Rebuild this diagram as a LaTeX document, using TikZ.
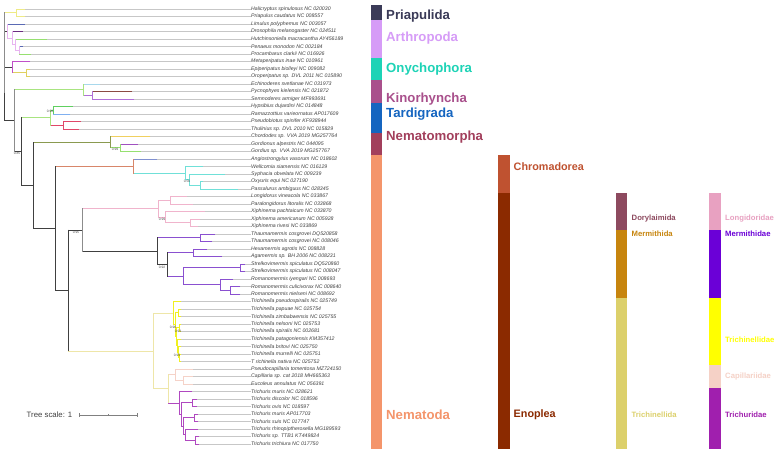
\documentclass[tikz,border=0pt]{standalone}
\usepackage{fontspec}
\setmainfont{Liberation Sans}
\definecolor{bb}{HTML}{404040}
\definecolor{bg}{HTML}{8C8C8C}
\definecolor{cPri}{HTML}{EEEA86}
\definecolor{cLav}{HTML}{E8B4F0}
\definecolor{cBlue}{HTML}{5A6AB4}
\definecolor{cDpur}{HTML}{6B2C80}
\definecolor{cGrn}{HTML}{96E070}
\definecolor{cMag}{HTML}{C050C8}
\definecolor{cYel}{HTML}{E0D060}
\definecolor{cLgrn}{HTML}{A8E480}
\definecolor{cLblu}{HTML}{A8D8EC}
\definecolor{cBrn}{HTML}{8B4A42}
\definecolor{cPur}{HTML}{B070D8}
\definecolor{cGreenB}{HTML}{60D060}
\definecolor{cBluB}{HTML}{80B0F0}
\definecolor{cRed}{HTML}{E04868}
\definecolor{cOlive}{HTML}{8A9A50}
\definecolor{cGold}{HTML}{F0D060}
\definecolor{cGpur}{HTML}{A050C0}
\definecolor{cSalm}{HTML}{D8866A}
\definecolor{cPeri}{HTML}{8090D0}
\definecolor{cCyan}{HTML}{70E0D8}
\definecolor{cPink}{HTML}{F0B4CC}
\definecolor{cMer}{HTML}{8A50D0}
\definecolor{cTyel}{HTML}{F0F020}
\definecolor{cPale}{HTML}{EEE6A8}
\definecolor{cCap}{HTML}{F5D2C8}
\definecolor{cTru}{HTML}{B048C0}
% bar colours
\definecolor{kPri}{HTML}{3B3B58}
\definecolor{kArt}{HTML}{D69CF7}
\definecolor{kOny}{HTML}{1DD3B6}
\definecolor{kKin}{HTML}{A9508C}
\definecolor{kTar}{HTML}{1565C0}
\definecolor{kNmo}{HTML}{A23F5C}
\definecolor{kNem}{HTML}{F4956B}
\definecolor{kChr}{HTML}{BF5230}
\definecolor{kEno}{HTML}{8B2A00}
\definecolor{kDor}{HTML}{8D4A5F}
\definecolor{kMeo}{HTML}{C7850E}
\definecolor{kTro}{HTML}{DCD06B}
\definecolor{kLon}{HTML}{E8A1C1}
\definecolor{kMef}{HTML}{6B00D7}
\definecolor{kTrf}{HTML}{FFFF00}
\definecolor{kCap}{HTML}{F5D1C6}
\definecolor{kTru}{HTML}{A01FAE}
\tikzset{
  br/.style={line width=0.9pt, line cap=rect},
  guide/.style={draw=black!22, line width=0.5pt},
  lab/.style={font=\fontsize{5.2}{6}\selectfont\itshape, text=black!75, anchor=west, inner sep=0pt},
  sv/.style={font=\fontsize{3.3}{4}\selectfont, text=black!70, inner sep=0pt},
  big/.style={font=\fontsize{13.2}{15}\selectfont\bfseries, anchor=west, inner sep=0pt},
  mid/.style={font=\fontsize{10.8}{13}\selectfont\bfseries, anchor=west, inner sep=0pt},
  sml/.style={font=\fontsize{7.7}{9}\selectfont\bfseries, anchor=west, inner sep=0pt},
}
\newcommand\tipx[5]{%
  \pgfmathsetmacro\ty{9.05+7.5*(#1-1)}%
  \node[lab] (t#1) at (251,\ty) {#5};%
  \draw[guide] (#3,\ty) -- (t#1.west);%
  \draw[br,draw=#4] (#2,\ty) -- (#3,\ty);%
}
\newcommand\vbr[4]{\draw[br,draw=#4] (#1,#2) -- (#1,#3);}
\newcommand\hbr[4]{\draw[br,draw=#4] (#1,#3) -- (#2,#3);}
\newcommand\band[5]{\fill[#5] (#1,#3) rectangle (#2,#4);}
\begin{document}
\begin{tikzpicture}[x=1pt,y=-1pt]
\useasboundingbox (0,0) rectangle (780,449);
\fill[white] (0,0) rectangle (780,449);
% ---------------- tips ----------------
\tipx{1}{16}{25}{cPri}{Halicryptus spinulosus NC 020030}
\tipx{2}{16}{25}{cPri}{Priapulus caudatus NC 008557}
\tipx{3}{7}{25}{cBlue}{Limulus polyphemus NC 003057}
\tipx{4}{12}{23}{cDpur}{Drosophila melanogaster NC 024511}
\tipx{5}{15}{47}{cGrn}{Hutchinsoniella macracantha AY456189}
\tipx{6}{19}{23}{cBlue}{Penaeus monodon NC 002184}
\tipx{7}{19}{31}{cGrn}{Procambarus clarkii NC 016926}
\tipx{8}{12}{30}{cMag}{Metaperipatus inae NC 010961}
\tipx{9}{26}{30}{cYel}{Epiperipatus biolleyi NC 009082}
\tipx{10}{26}{30}{cYel}{Oroperipatus sp. DVL 2011 NC 015890}
\tipx{11}{83}{100}{cLblu}{Echinoderes svetlanae NC 031973}
\tipx{12}{92}{132}{cBrn}{Pycnophyes kielensis NC 021872}
\tipx{13}{92}{134}{cPur}{Semnoderes armiger MF993691}
\tipx{14}{53}{73}{cGreenB}{Hypsibius dujardini NC 014848}
\tipx{15}{53}{70}{cBluB}{Ramazzottius varieornatus AP017609}
\tipx{16}{63}{81}{cRed}{Pseudobiotus spinifer KF938944}
\tipx{17}{63}{79}{cRed}{Thulinius sp. DVL 2010 NC 015829}
\tipx{18}{110}{150}{cGold}{Chordodes sp. VVA 2019 MG257764}
\tipx{19}{120}{138}{cGpur}{Gordionus alpestris NC 044095}
\tipx{20}{120}{141}{cGrn}{Gordius sp. VVA 2019 MG257767}
\tipx{21}{133}{157}{cPeri}{Angiostrongylus vasorum NC 018602}
\tipx{22}{185}{203}{cCyan}{Wellcomia siamensis NC 016129}
\tipx{23}{189}{225}{cCyan}{Syphacia obvelata NC 009239}
\tipx{24}{200}{203}{cCyan}{Oxyuris equi NC 027190}
\tipx{25}{200}{238}{cCyan}{Passalurus ambiguus NC 028345}
\tipx{26}{170}{187}{cPink}{Longidorus vineacola NC 033867}
\tipx{27}{170}{193}{cPink}{Paralongidorus litoralis NC 033868}
\tipx{28}{165}{205}{cPink}{Xiphinema pachtaicum NC 033870}
\tipx{29}{190}{200}{cPink}{Xiphinema americanum NC 005928}
\tipx{30}{190}{198}{cPink}{Xiphinema rivesi NC 033869}
\tipx{31}{200}{215}{cMer}{Thaumamermis cosgrovei DQ520858}
\tipx{32}{200}{212}{cMer}{Thaumamermis cosgrovei NC 008046}
\tipx{33}{193}{207}{cMer}{Hexamermis agrotis NC 008828}
\tipx{34}{193}{222}{cMer}{Agamermis sp. BH 2006 NC 008231}
\tipx{35}{240}{245}{cMer}{Strelkovimermis spiculatus DQ520860}
\tipx{36}{240}{245}{cMer}{Strelkovimermis spiculatus NC 008047}
\tipx{37}{220}{233}{cMer}{Romanomermis iyengari NC 008693}
\tipx{38}{230}{240}{cMer}{Romanomermis culicivorax NC 008640}
\tipx{39}{230}{240}{cMer}{Romanomermis nielseni NC 008692}
\tipx{40}{173}{181}{cTyel}{Trichinella pseudospiralis NC 025749}
\tipx{41}{178}{181}{cTyel}{Trichinella papuae NC 025754}
\tipx{42}{178}{181}{cTyel}{Trichinella zimbabwensis NC 025755}
\tipx{43}{179}{181}{cTyel}{Trichinella nelsoni NC 025753}
\tipx{44}{179}{181}{cTyel}{Trichinella spiralis NC 002681}
\tipx{45}{177}{181}{cTyel}{Trichinella patagoniensis KM357412}
\tipx{46}{178}{181}{cTyel}{Trichinella britovi NC 025750}
\tipx{47}{179}{181}{cTyel}{Trichinella murrelli NC 025751}
\tipx{48}{179}{181}{cTyel}{T richinella nativa NC 025752}
\tipx{49}{175}{193}{cCap}{Pseudocapillaria tomentosa MZ724150}
\tipx{50}{183}{193}{cCap}{Capillaria sp. cat 2018 MH665363}
\tipx{51}{183}{193}{cCap}{Eucoleus annulatus NC 056391}
\tipx{52}{179}{192}{cTru}{Trichuris muris NC 028621}
\tipx{53}{192}{197}{cTru}{Trichuris discolor NC 018596}
\tipx{54}{192}{197}{cTru}{Trichuris ovis NC 018597}
\tipx{55}{194}{198}{cTru}{Trichuris muris AP017703}
\tipx{56}{194}{198}{cTru}{Trichuris suis NC 017747}
\tipx{57}{185}{198}{cTru}{Trichuris rhinopiptheroxella MG189593}
\tipx{58}{195}{199}{cTru}{Trichuris sp. TTB1 KT449824}
\tipx{59}{195}{199}{cTru}{Trichuris trichiura NC 017750}
% ---------------- internal branches ----------------
% Priapulida
\vbr{16}{9.05}{16.55}{cPri} \hbr{4}{16}{12.8}{cPri}
% Arthropoda
\vbr{19}{46.55}{54.05}{cLav} \hbr{15}{19}{50.3}{cLav}
\vbr{15}{39.05}{50.3}{cLav} \hbr{12}{15}{44.7}{cLav}
\vbr{12}{31.55}{44.7}{cLav} \hbr{7}{12}{38.1}{cLav}
\vbr{7}{24.05}{38.1}{cLav} \hbr{4}{7}{31.1}{bb}
% Onychophora
\vbr{26}{69.05}{76.55}{cYel} \hbr{12}{26}{72.8}{cYel}
\vbr{12}{61.55}{72.8}{cMag} \hbr{4}{12}{67.2}{bb}
% Kinorhyncha
\vbr{92}{91.55}{99.05}{cPur} \hbr{83}{92}{95.3}{cPur}
\vbr{83}{84.05}{95.3}{cLgrn} \hbr{14}{83}{89.7}{cLgrn}
% Tardigrada
\vbr{53}{106.55}{114.05}{cGreenB} \hbr{50}{53}{110.3}{cGreenB}
\vbr{63}{121.55}{129.05}{cRed} \hbr{50}{63}{125.3}{cRed}
\vbr{50}{110.3}{125.3}{cLgrn} \hbr{21}{50}{117.8}{cLgrn}
% Nematomorpha
\vbr{120}{144.05}{151.55}{cGrn} \hbr{110}{120}{147.8}{cGrn}
\vbr{110}{136.55}{147.8}{cOlive} \hbr{33}{110}{142.2}{cOlive}
% Chromadorea
\vbr{200}{181.55}{189.05}{cCyan} \hbr{189}{200}{185.3}{cCyan}
\vbr{189}{174.05}{185.3}{cCyan} \hbr{185}{189}{179.7}{cCyan}
\vbr{185}{166.55}{179.7}{cCyan} \hbr{133}{185}{173.1}{cCyan}
\vbr{133}{159.05}{173.1}{cSalm} \hbr{55}{133}{166.1}{cSalm}
% Dorylaimida
\vbr{170}{196.55}{204.05}{cPink} \hbr{158}{170}{200.3}{cPink}
\vbr{190}{219.05}{226.55}{cPink} \hbr{165}{190}{222.8}{cPink}
\vbr{165}{211.55}{222.8}{cPink} \hbr{158}{165}{217.2}{cPink}
\vbr{158}{200.3}{217.2}{cPink} \hbr{82}{158}{208.7}{cPink}
% Mermithida
\vbr{200}{234.05}{241.55}{cMer} \hbr{157}{200}{237.8}{cMer}
\vbr{193}{249.05}{256.55}{cMer} \hbr{167}{193}{252.8}{cMer}
\vbr{240}{264.05}{271.55}{cMer} \hbr{183}{240}{267.8}{cMer}
\vbr{230}{286.55}{294.05}{cMer} \hbr{220}{230}{290.3}{cMer}
\vbr{220}{279.05}{290.3}{cMer} \hbr{183}{220}{284.7}{cMer}
\vbr{183}{267.8}{284.7}{cMer} \hbr{167}{183}{276.2}{cMer}
\vbr{167}{252.8}{276.2}{bb} \hbr{157}{167}{264.5}{bb}
\vbr{157}{237.8}{264.5}{bb} \hbr{82}{157}{251.2}{bb}
\vbr{82}{208.7}{251.2}{bg} \hbr{68}{82}{230}{bb}
% Trichinella
\vbr{178}{309.05}{316.55}{cTyel} \hbr{175}{178}{312.8}{cTyel}
\vbr{179}{324.05}{331.55}{cTyel} \hbr{176}{179}{327.8}{cTyel}
\vbr{179}{354.05}{361.55}{cTyel} \hbr{178}{179}{357.8}{cTyel}
\vbr{178}{346.55}{357.8}{cTyel} \hbr{177}{178}{352.2}{cTyel}
\vbr{177}{339.05}{352.2}{cTyel} \hbr{176}{177}{345.6}{cTyel}
\vbr{176}{327.8}{345.6}{cTyel} \hbr{175}{176}{336.7}{cTyel}
\vbr{175}{312.8}{336.7}{cTyel} \hbr{173}{175}{324.8}{cTyel}
\vbr{173}{301.55}{324.8}{cTyel} \hbr{153}{173}{313.2}{cPale}
% Capillariidae
\vbr{183}{376.55}{384.05}{cCap} \hbr{175}{183}{380.3}{cCap}
\vbr{175}{369.05}{380.3}{cCap} \hbr{168}{175}{374.7}{cCap}
% Trichuridae
\vbr{192}{399.05}{406.55}{cTru} \hbr{181}{192}{402.8}{cTru}
\vbr{194}{414.05}{421.55}{cTru} \hbr{183}{194}{417.8}{cTru}
\vbr{195}{436.55}{444.05}{cTru} \hbr{185}{195}{440.3}{cTru}
\vbr{185}{429.05}{440.3}{cTru} \hbr{183}{185}{434.7}{cTru}
\vbr{183}{417.8}{434.7}{cTru} \hbr{181}{183}{426.2}{cTru}
\vbr{181}{402.8}{426.2}{cTru} \hbr{179}{181}{414.5}{cTru}
\vbr{179}{391.55}{414.5}{cTru} \hbr{168}{179}{403}{cTru}
\vbr{168}{374.7}{403}{cPale} \hbr{153}{168}{388.9}{cPale}
\vbr{153}{313.2}{388.9}{cPale} \hbr{68}{153}{351}{cPale}
% backbone
\vbr{68}{230}{351}{bb} \hbr{55}{68}{290.5}{bb}
\vbr{55}{166.1}{290.5}{bb} \hbr{33}{55}{228.3}{bb}
\vbr{33}{142.2}{228.3}{bb} \hbr{21}{33}{185.2}{bb}
\vbr{21}{117.8}{185.2}{bb} \hbr{14}{21}{151.5}{bb}
\vbr{14}{89.7}{151.5}{bg} \hbr{4}{14}{120.6}{bb}
\vbr{4}{12.8}{93}{bg}
\vbr{4}{93}{120.6}{bb}
% support values
\node[sv] (s1) at (17,153) {0.85};
\node[sv] (s2) at (50,111.7) {0.98};
\node[sv] (s3) at (115,149.3) {0.99};
\node[sv] (s4) at (187,181) {0.56};
\node[sv] (s5) at (162,219) {0.99};
\node[sv] (s6) at (76,232) {0.95};
\node[sv] (s7) at (162,267) {0.92};
\node[sv] (s8) at (173,327) {0.96};
\node[sv] (s9) at (178,331) {0.93};
\node[sv] (s10) at (177,355) {0.99};
% tree scale
\node[anchor=west, inner sep=0pt, font=\fontsize{7.8}{9}\selectfont, text=black!75] (ts) at (26.5,415) {Tree scale: 1};
\coordinate (sbA) at (79,415);
\coordinate (sbB) at (137,415);
\draw[black!50, line width=0.6pt] (sbA) -- (sbB);
\draw[black!50, line width=0.6pt] ([yshift=2pt]sbA) -- ([yshift=-2pt]sbA);
\draw[black!50, line width=0.6pt] ([yshift=2pt]sbB) -- ([yshift=-2pt]sbB);
\draw[black!50, line width=0.5pt] (108,414) -- (108,416);
% ---------------- annotation bars ----------------
\band{370.7}{382}{5.3}{20.3}{kPri}
\band{370.7}{382}{20.3}{57.8}{kArt}
\band{370.7}{382}{57.8}{80.3}{kOny}
\band{370.7}{382}{80.3}{102.8}{kKin}
\band{370.7}{382}{102.8}{132.8}{kTar}
\band{370.7}{382}{132.8}{155.3}{kNmo}
\band{370.7}{382}{155.3}{449}{kNem}
\band{498}{510}{155.3}{192.8}{kChr}
\band{498}{510}{192.8}{449}{kEno}
\band{616}{627.3}{192.8}{230.3}{kDor}
\band{616}{627.3}{230.3}{297.8}{kMeo}
\band{616}{627.3}{297.8}{449}{kTro}
\band{709.3}{721}{192.8}{230.3}{kLon}
\band{709.3}{721}{230.3}{297.8}{kMef}
\band{709.3}{721}{297.8}{365.3}{kTrf}
\band{709.3}{721}{365.3}{387.8}{kCap}
\band{709.3}{721}{387.8}{449}{kTru}
\node[big, text=kPri] (lPri) at (386,16) {Priapulida};
\node[big, text=kArt] (lArt) at (386,38.5) {Arthropoda};
\node[big, text=kOny] (lOny) at (386,68.8) {Onychophora};
\node[big, text=kKin] (lKin) at (386,99) {Kinorhyncha};
\node[big, text=kTar] (lTar) at (386,114) {Tardigrada};
\node[big, text=kNmo] (lNmo) at (386,137) {Nematomorpha};
\node[big, text=kNem] (lNem) at (386,415) {Nematoda};
\node[mid, text=kChr] (lChr) at (513.5,167) {Chromadorea};
\node[mid, text=kEno] (lEno) at (513.5,415) {Enoplea};
\node[sml, text=kDor] (lDor) at (631.5,219) {Dorylaimida};
\node[sml, text=kMeo] (lMeo) at (631.5,234) {Mermithida};
\node[sml, text=kTro] (lTro) at (631.5,414.5) {Trichinellida};
\node[sml, text=kLon] (lLon) at (725,219) {Longidoridae};
\node[sml, text=kMef] (lMef) at (725,234) {Mermithidae};
\node[sml, text=kTrf] (lTrf) at (725,339.5) {Trichinellidae};
\node[sml, text=kCap] (lCap) at (725,377) {Capillariidae};
\node[sml, text=kTru] (lTru) at (725,414.5) {Trichuridae};
\end{tikzpicture}
\end{document}
